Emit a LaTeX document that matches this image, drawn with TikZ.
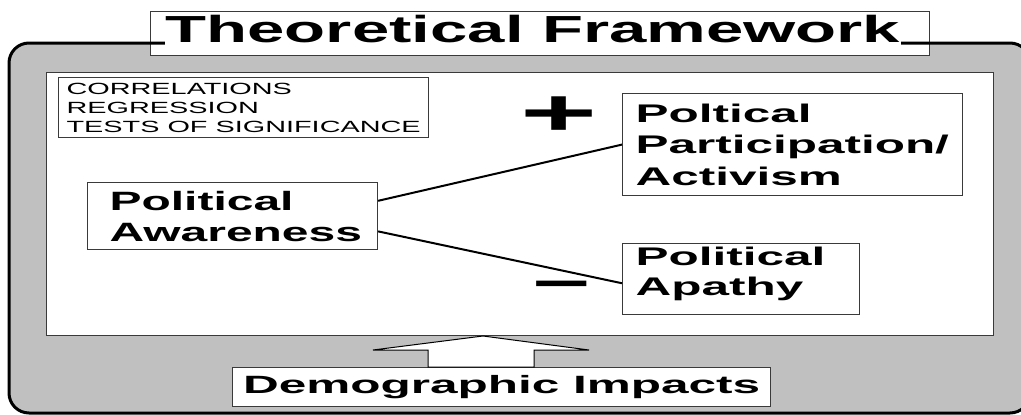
\documentclass[tikz,border=0pt]{standalone}
\usepackage{fontspec}
\setmainfont{Liberation Sans}[FakeStretch=1.78]
\newfontfamily\awarefont{Liberation Sans}[FakeStretch=1.81]
\newfontfamily\widefont{Liberation Sans}[FakeStretch=1.94]
\newfontfamily\demofont{Liberation Sans}[FakeStretch=1.98]
\newfontfamily\signfont{Liberation Sans}[FakeStretch=2.0]
\usepackage{tikz}

\definecolor{panelgray}{HTML}{C0C0C0}
\definecolor{framegray}{HTML}{3A3A3A}

\tikzset{
  frame/.style={draw=framegray, line width=1.2pt, fill=white},
  conceptbox/.style={frame, anchor=north west, align=left, inner ysep=0pt,
    font=\widefont\fontsize{25.5}{31.5}\selectfont\bfseries},
  sign/.style={inner sep=0pt},
  link/.style={line width=2pt}
}

\begin{document}
\begin{tikzpicture}[x=1pt,y=-1pt]
        \useasboundingbox (0,0) rectangle (1021,415);

        % Grey background and its rounded border
        \fill[panelgray, rounded corners=20pt] (9,43) rectangle (1030,413);
        \node[frame, anchor=north west, minimum width=779pt, minimum height=44pt, inner sep=0pt] (titlebox) at (150,11) {};
        \draw[line width=3pt, rounded corners=20pt] (9,43) rectangle (1030,413);
        \node[fill=white, anchor=base, inner xsep=1pt, inner ysep=3pt, font=\fontsize{37.7}{40}\selectfont\bfseries] (title) at (533,42) {Theoretical Framework};

        % White panel
        \node[frame, anchor=north west, minimum width=947pt, minimum height=263pt, inner sep=0pt] (panel) at (46,72) {};

        % Methods box
        \node[frame, anchor=north west, align=left, inner xsep=8pt, inner ysep=0pt, minimum width=366pt, minimum height=60pt,
              font=\fontsize{16.2}{19}\selectfont] (methods) at (58,77) {CORRELATIONS\\REGRESSION\\TESTS OF SIGNIFICANCE};

        % Concepts
        \node[conceptbox, font=\awarefont\fontsize{26.5}{31}\selectfont\bfseries, inner xsep=22pt, text width=246pt, minimum height=67pt] (aware) at (87,182) {Political\\Awareness};
        \node[conceptbox, inner xsep=13pt, text width=314pt, minimum height=102pt] (partic) at (622,93) {Poltical\\Participation/\\Activism};
        \node[conceptbox, font=\widefont\fontsize{25.5}{30}\selectfont\bfseries, inner xsep=13pt, text width=211pt, minimum height=71pt, text depth=45pt] (apathy) at (622,243) {Political\\Apathy};

        % Signs
        \node[sign, font=\signfont\fontsize{66}{66}\selectfont\bfseries] (plus) at (559.5,116) {+};
        \node[sign, font=\signfont\fontsize{50}{50}\selectfont\bfseries] (minus) at (562,291) {−};

        % Links
        \draw[link] (aware.6) -- (partic.west);
        \draw[link] (aware.-6) -- (apathy.182);

        % Demographics and its block arrow
        \node[frame, anchor=north west, minimum width=538pt, minimum height=39pt, inner sep=0pt,
              font=\demofont\fontsize{25}{28}\selectfont\bfseries] (demo) at (232,367) {Demographic Impacts};
        \draw[draw=black, fill=white, line width=1pt] (483,336) -- (589,350) -- (534,350) -- (534,367)
              -- (428,367) -- (428,350) -- (373,350) -- cycle;

    \end{tikzpicture}
\end{document}
